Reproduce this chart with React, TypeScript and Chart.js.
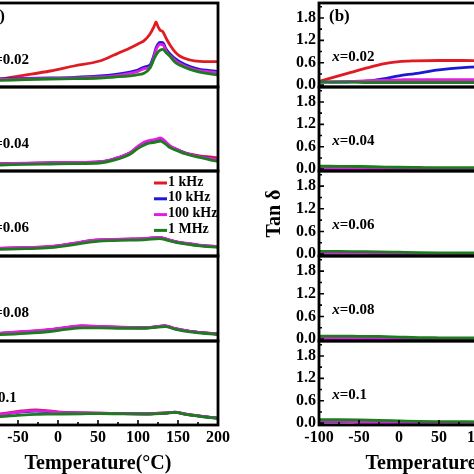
import React, { useEffect, useRef } from "react";
import { Chart, registerables } from "chart.js";

Chart.register(...registerables);

// ---------- shared labels / ticks ----------
const FREQS = ["1 kHz", "10 kHz", "100 kHz", "1 MHz"];
const COLORS = ["#e11b22", "#1a1ad6", "#e21de2", "#1c7d1c"];
const COMPOSITIONS = ["0.02", "0.04", "0.06", "0.08", "0.1"];
const X_MAJOR = [-100, -50, 0, 50, 100, 150, 200];
const X_MINOR = [-75, -25, 25, 75, 125, 175];
const TAN_MAJOR = [0, 0.6, 1.2, 1.8];
const TAN_MINOR = [0.3, 0.9, 1.5, 2.1];
const X_TITLE = "Temperature(°C)";
const Y_TITLE_B = "Tan δ";

// ---------- panel (a): permittivity (arbitrary units, axis cut off) ----------
const tA1 = [-100, -72, -40, -10, 20, 52, 70, 90, 100, 108, 115, 120, 122.5, 125, 127.5, 131, 135, 140, 146, 152, 165, 177, 190, 200];
const a1Red = [250, 400, 600, 800, 1050, 1300, 1600, 1950, 2150, 2330, 2650, 3020, 3250, 3020, 2850, 2770, 2450, 2100, 1770, 1550, 1350, 1280, 1270, 1270];
const a1Blue = [350, 400, 430, 450, 480, 550, 620, 750, 850, 1000, 1100, 1600, 1950, 2150, 2230, 2220, 1900, 1650, 1430, 1270, 1020, 880, 820, 770];
const a1Mag = [330, 380, 410, 430, 450, 500, 560, 680, 780, 920, 1000, 1500, 1850, 2050, 2130, 2120, 1800, 1560, 1350, 1180, 950, 820, 760, 720];
const a1Green = [300, 330, 370, 400, 420, 450, 500, 560, 620, 700, 950, 1400, 1600, 1750, 1840, 1880, 1720, 1530, 1250, 1100, 880, 740, 660, 600];

const tA2 = [-100, -72, -40, -10, 20, 52, 70, 90, 100, 108, 115, 122, 128, 135, 140, 150, 160, 177, 190, 200];
const a2Red = [330, 350, 380, 400, 420, 450, 600, 900, 1200, 1400, 1480, 1520, 1580, 1400, 1230, 1050, 900, 760, 700, 660];
const a2Blue = [330, 350, 380, 400, 420, 450, 600, 900, 1200, 1400, 1480, 1520, 1580, 1400, 1230, 1050, 880, 720, 640, 580];
const a2Mag = [340, 360, 390, 410, 430, 460, 610, 920, 1240, 1450, 1530, 1580, 1650, 1450, 1260, 1060, 880, 720, 630, 570];
const a2Green = [280, 300, 330, 350, 370, 400, 540, 840, 1130, 1300, 1400, 1440, 1500, 1330, 1170, 1000, 850, 680, 560, 480];

const tA3 = [-100, -72, -40, -10, 20, 40, 52, 70, 90, 110, 127, 135, 146, 160, 177, 200];
const a3Red = [350, 380, 410, 460, 620, 750, 790, 810, 830, 860, 910, 840, 710, 620, 530, 470];
const a3Blue = [345, 375, 405, 455, 615, 745, 785, 805, 825, 855, 905, 835, 705, 615, 525, 460];
const a3Mag = [360, 390, 420, 470, 630, 760, 800, 820, 840, 870, 920, 850, 720, 630, 540, 470];
const a3Green = [300, 330, 360, 410, 560, 690, 740, 760, 780, 810, 860, 800, 680, 590, 500, 430];

const tA4 = [-100, -72, -40, -10, 10, 30, 52, 80, 110, 134, 146, 165, 185, 200];
const a4Red = [330, 380, 460, 560, 660, 740, 710, 675, 655, 745, 615, 475, 395, 345];
const a4Blue = [325, 375, 455, 555, 655, 735, 705, 670, 650, 740, 610, 470, 390, 340];
const a4Mag = [340, 390, 470, 570, 670, 750, 720, 680, 660, 750, 620, 480, 400, 350];
const a4Green = [290, 320, 380, 470, 570, 650, 650, 630, 630, 710, 590, 450, 370, 320];

const tA5 = [-100, -72, -50, -28, -10, 4, 30, 52, 80, 110, 135, 146, 160, 180, 200];
const a5Red = [480, 560, 680, 760, 700, 640, 600, 590, 570, 560, 600, 640, 540, 430, 340];
const a5Blue = [460, 530, 630, 700, 670, 620, 595, 585, 565, 555, 595, 635, 535, 425, 335];
const a5Mag = [470, 540, 650, 720, 680, 630, 600, 590, 570, 560, 600, 640, 540, 430, 340];
const a5Green = [380, 420, 480, 530, 545, 550, 560, 570, 555, 545, 590, 630, 530, 420, 330];

// ---------- panel (b): tan delta ----------
const tB1 = [-100, -80, -60, -40, -20, 0, 20, 50, 80, 100, 130, 160, 200];
const b1Red = [0.1, 0.22, 0.34, 0.46, 0.57, 0.63, 0.65, 0.66, 0.66, 0.65, 0.64, 0.63, 0.62];
const b1Blue = [0.08, 0.08, 0.09, 0.11, 0.17, 0.25, 0.31, 0.41, 0.47, 0.49, 0.5, 0.5, 0.5];
const b1Mag = [0.08, 0.09, 0.1, 0.12, 0.13, 0.14, 0.15, 0.15, 0.15, 0.15, 0.15, 0.15, 0.15];
const b1Green = [0.09, 0.08, 0.08, 0.07, 0.07, 0.07, 0.07, 0.07, 0.07, 0.07, 0.07, 0.07, 0.07];

const tB = [-100, -75, -50, -25, 0, 25, 50, 100, 150, 200];
const b2Red = [0.03, 0.03, 0.025, 0.02, 0.015, 0.01, 0.01, 0.01, 0.01, 0.01];
const b2Blue = [0.03, 0.03, 0.025, 0.02, 0.015, 0.012, 0.01, 0.01, 0.01, 0.01];
const b2Mag = [0.04, 0.035, 0.03, 0.025, 0.02, 0.015, 0.015, 0.015, 0.015, 0.015];
const b2Green = [0.08, 0.075, 0.07, 0.06, 0.05, 0.045, 0.04, 0.04, 0.04, 0.04];

const b3Red = [0.03, 0.03, 0.025, 0.02, 0.015, 0.01, 0.01, 0.01, 0.01, 0.01];
const b3Blue = [0.03, 0.03, 0.025, 0.02, 0.015, 0.01, 0.01, 0.01, 0.01, 0.01];
const b3Mag = [0.035, 0.035, 0.03, 0.025, 0.02, 0.015, 0.012, 0.01, 0.01, 0.01];
const b3Green = [0.07, 0.07, 0.065, 0.06, 0.05, 0.04, 0.035, 0.03, 0.03, 0.03];

const b4Red = [0.03, 0.03, 0.025, 0.02, 0.015, 0.012, 0.01, 0.01, 0.01, 0.01];
const b4Blue = [0.03, 0.03, 0.025, 0.02, 0.015, 0.012, 0.01, 0.01, 0.01, 0.01];
const b4Mag = [0.04, 0.04, 0.035, 0.03, 0.025, 0.02, 0.015, 0.01, 0.01, 0.01];
const b4Green = [0.08, 0.08, 0.075, 0.07, 0.055, 0.04, 0.035, 0.03, 0.03, 0.03];

const b5Red = [0.035, 0.035, 0.03, 0.025, 0.02, 0.015, 0.01, 0.01, 0.01, 0.01];
const b5Blue = [0.035, 0.035, 0.03, 0.025, 0.02, 0.015, 0.01, 0.01, 0.01, 0.01];
const b5Mag = [0.045, 0.045, 0.04, 0.035, 0.025, 0.02, 0.015, 0.01, 0.01, 0.01];
const b5Green = [0.09, 0.09, 0.085, 0.075, 0.06, 0.045, 0.04, 0.035, 0.03, 0.03];

// ---------- layout ----------
const FONT = '"Liberation Serif", "Times New Roman", serif';
const ROW_EDGES = [3, 87, 171, 256, 341, 425];
const COL_A_LEFT = -22;
const COL_B_LEFT = 319;
const PLOT_W = 240;
const Y_AXIS_W = 60;
const PAD_V = 14;
const PAD_R = 20;
const X_AXIS_H = 51;

type Spec = {
  col: "a" | "b";
  row: number;
  temps: number[];
  series: number[][];
};

const SPECS: Spec[] = [
  { col: "a", row: 0, temps: tA1, series: [a1Red, a1Blue, a1Mag, a1Green] },
  { col: "a", row: 1, temps: tA2, series: [a2Red, a2Blue, a2Mag, a2Green] },
  { col: "a", row: 2, temps: tA3, series: [a3Red, a3Blue, a3Mag, a3Green] },
  { col: "a", row: 3, temps: tA4, series: [a4Red, a4Blue, a4Mag, a4Green] },
  { col: "a", row: 4, temps: tA5, series: [a5Red, a5Blue, a5Mag, a5Green] },
  { col: "b", row: 0, temps: tB1, series: [b1Red, b1Blue, b1Mag, b1Green] },
  { col: "b", row: 1, temps: tB, series: [b2Red, b2Blue, b2Mag, b2Green] },
  { col: "b", row: 2, temps: tB, series: [b3Red, b3Blue, b3Mag, b3Green] },
  { col: "b", row: 3, temps: tB, series: [b4Red, b4Blue, b4Mag, b4Green] },
  { col: "b", row: 4, temps: tB, series: [b5Red, b5Blue, b5Mag, b5Green] },
];

function geometry(s: Spec) {
  const top = ROW_EDGES[s.row];
  const bottom = ROW_EDGES[s.row + 1];
  const showX = s.row === 4;
  const plotLeft = s.col === "a" ? COL_A_LEFT : COL_B_LEFT;
  const left = plotLeft - Y_AXIS_W;
  const width = Y_AXIS_W + PLOT_W + PAD_R;
  const height = PAD_V + (bottom - top) + (showX ? X_AXIS_H : PAD_V);
  return { left, top: top - PAD_V, width, height, showX };
}

function decorPlugin(s: Spec, showX: boolean) {
  const showY = s.col === "b";
  return {
    id: "decor" + s.col + s.row,
    afterDatasetsDraw(chart: any) {
      const { ctx, chartArea, scales } = chart;
      const { left, top, right, bottom } = chartArea;
      const x = scales.x;
      const y = scales.y;
      ctx.save();
      ctx.strokeStyle = "#000";
      ctx.lineWidth = 2.8;
      ctx.strokeRect(left, top, right - left, bottom - top);
      ctx.lineWidth = 1.6;
      ctx.beginPath();
      if (showX) {
        X_MAJOR.forEach((v) => {
          const p = x.getPixelForValue(v);
          ctx.moveTo(p, bottom);
          ctx.lineTo(p, bottom - 5);
        });
        X_MINOR.forEach((v) => {
          const p = x.getPixelForValue(v);
          ctx.moveTo(p, bottom);
          ctx.lineTo(p, bottom - 3);
        });
      }
      if (showY) {
        TAN_MAJOR.forEach((v) => {
          const p = y.getPixelForValue(v);
          ctx.moveTo(left, p);
          ctx.lineTo(left + 5, p);
        });
        TAN_MINOR.forEach((v) => {
          const p = y.getPixelForValue(v);
          ctx.moveTo(left, p);
          ctx.lineTo(left + 3, p);
        });
      }
      ctx.stroke();

      // composition label  x=0.0n
      ctx.fillStyle = "#000";
      ctx.textBaseline = "middle";
      ctx.textAlign = "left";
      const labelT = s.col === "a" ? (s.row === 4 ? -95 : -89) : -83.5;
      const lx = x.getPixelForValue(labelT);
      const ly = top + (s.col === "a" ? 57 : 54);
      ctx.font = `italic bold 15px ${FONT}`;
      ctx.fillText("x", lx, ly);
      const w = ctx.measureText("x").width;
      ctx.font = `bold 15px ${FONT}`;
      ctx.fillText("=" + COMPOSITIONS[s.row], lx + w, ly);

      // panel letter
      if (s.row === 0) {
        ctx.font = `bold 17px ${FONT}`;
        ctx.fillText(s.col === "a" ? "(a)" : "(b)", left + (s.col === "a" ? 7 : 10), top + 14);
      }

      // legend
      if (s.col === "a" && s.row === 2) {
        ctx.font = `bold 14px ${FONT}`;
        chart.data.datasets.forEach((ds: any, i: number) => {
          const yy = top + 11 + i * 15.8;
          ctx.strokeStyle = ds.borderColor;
          ctx.lineWidth = 3;
          ctx.beginPath();
          ctx.moveTo(right - 64, yy + 1);
          ctx.lineTo(right - 51, yy + 1);
          ctx.stroke();
          ctx.fillStyle = "#000";
          ctx.fillText(ds.label, right - 50, yy);
        });
      }
      ctx.restore();
    },
  };
}

function buildConfig(s: Spec, showX: boolean): any {
  const isB = s.col === "b";
  const tickFont = { family: FONT, size: 16, weight: "bold" as const };
  const datasets = FREQS.map((f, i) => ({
    label: f,
    data: s.temps.map((t, j) => ({ x: t, y: s.series[i][j] })),
    borderColor: COLORS[i],
    backgroundColor: COLORS[i],
    borderWidth: 2.8,
    pointRadius: 0,
    cubicInterpolationMode: "monotone",
    fill: false,
    order: 4 - i,
  }));
  return {
    type: "line",
    data: { datasets },
    options: {
      animation: false,
      responsive: false,
      maintainAspectRatio: false,
      events: [],
      layout: {
        padding: {
          left: isB ? 0 : Y_AXIS_W,
          right: PAD_R,
          top: PAD_V,
          bottom: showX ? 0 : PAD_V,
        },
      },
      plugins: { legend: { display: false }, tooltip: { enabled: false } },
      scales: {
        x: {
          type: "linear",
          min: -100,
          max: 200,
          display: showX,
          afterBuildTicks: (sc: any) => {
            sc.ticks = X_MAJOR.map((v) => ({ value: v }));
          },
          afterFit: (sc: any) => {
            if (showX) sc.height = X_AXIS_H;
          },
          grid: { display: false, drawTicks: false },
          border: { display: false },
          ticks: { font: tickFont, color: "#000", padding: 3, autoSkip: false, maxRotation: 0 },
          title: {
            display: true,
            text: X_TITLE,
            color: "#000",
            font: { family: FONT, size: 20, weight: "bold" },
            padding: { top: 4, bottom: 0 },
          },
        },
        y: {
          type: "linear",
          min: isB ? -0.05 : 0,
          max: isB ? 2.2 : 4200,
          display: isB,
          afterBuildTicks: (sc: any) => {
            sc.ticks = TAN_MAJOR.map((v) => ({ value: v }));
          },
          afterFit: (sc: any) => {
            if (isB) sc.width = Y_AXIS_W;
          },
          grid: { display: false, drawTicks: false },
          border: { display: false },
          ticks: {
            font: tickFont,
            color: "#000",
            padding: 3,
            autoSkip: false,
            callback: (v: any) => Number(v).toFixed(1),
          },
          title: {
            display: isB && s.row === 2,
            text: Y_TITLE_B,
            color: "#000",
            font: { family: FONT, size: 20, weight: "bold" },
            padding: { top: 4, bottom: 0 },
          },
        },
      },
    },
    plugins: [decorPlugin(s, showX)],
  };
}

function Panel({ spec }: { spec: Spec }) {
  const ref = useRef<HTMLCanvasElement>(null);
  const g = geometry(spec);
  useEffect(() => {
    if (!ref.current) return;
    const chart = new Chart(ref.current, buildConfig(spec, g.showX));
    return () => chart.destroy();
  }, []);
  return (
    <canvas
      ref={ref}
      width={g.width}
      height={g.height}
      style={{ position: "absolute", left: g.left, top: g.top, width: g.width, height: g.height }}
    />
  );
}

export default function App() {
  return (
    <div
      style={{
        position: "fixed",
        left: 0,
        top: 0,
        width: 474,
        height: 474,
        overflow: "hidden",
        background: "#ffffff",
      }}
    >
      {SPECS.map((s) => (
        <Panel key={s.col + s.row} spec={s} />
      ))}
    </div>
  );
}
